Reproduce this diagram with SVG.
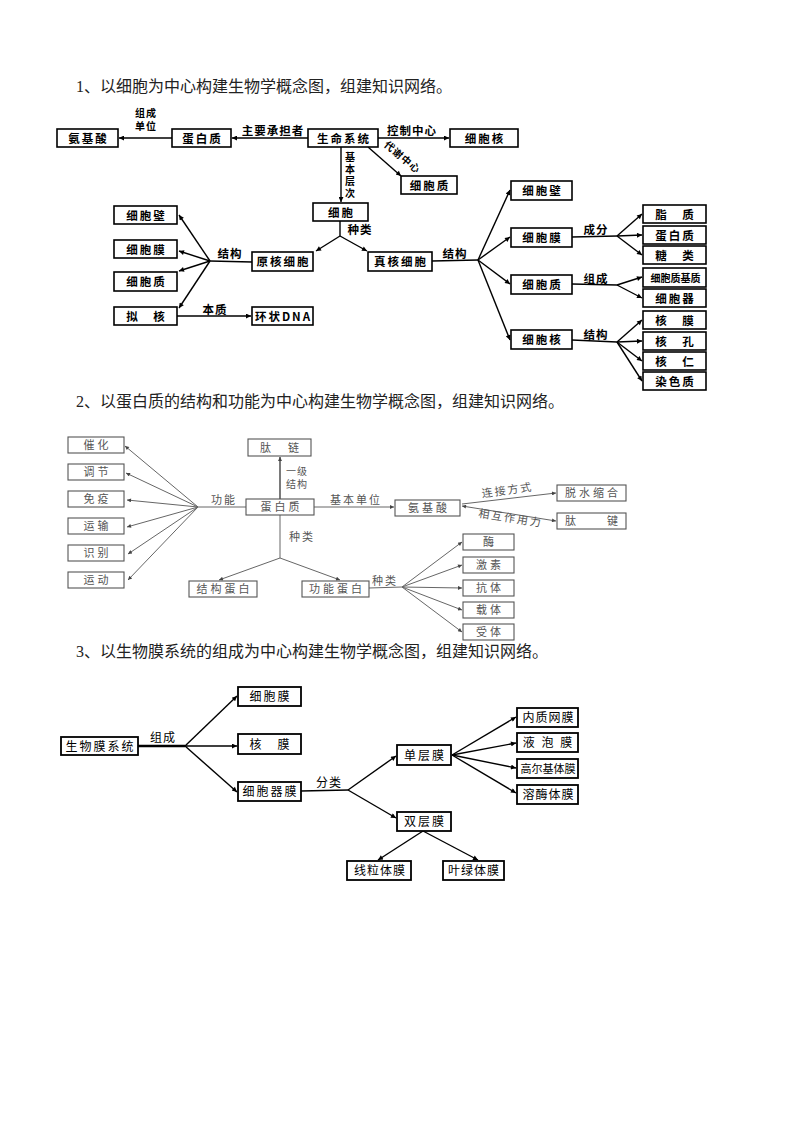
<svg xmlns="http://www.w3.org/2000/svg" width="793" height="1122" viewBox="0 0 793 1122">
<style>
.title{font-family:"Liberation Serif","Noto Sans CJK SC",serif;font-size:16px;fill:#222}
.b1 rect{fill:#fff;stroke:#000;stroke-width:1.6}
.b1 text{font-family:"Noto Sans CJK SC",sans-serif;font-size:11.5px;font-weight:700;letter-spacing:2px;text-anchor:middle;fill:#000}
.l1{font-family:"Noto Sans CJK SC",sans-serif;font-size:11.5px;font-weight:700;fill:#000;text-anchor:middle;letter-spacing:1px}
.s1{font-size:10px}
.c1 line,.c1 path{stroke:#000;stroke-width:1.4;fill:none}
.b2 rect{fill:#fff;stroke:#555;stroke-width:1.1}
.b2 text{font-family:"Noto Sans CJK SC",sans-serif;font-size:11px;letter-spacing:3px;text-anchor:middle;fill:#555}
.l2{font-family:"Noto Sans CJK SC",sans-serif;font-size:11px;fill:#555;text-anchor:middle;letter-spacing:2px}
.s2{font-size:10px;letter-spacing:1px}
.c2 line{stroke:#666;stroke-width:1;fill:none}
.b3 rect{fill:#fff;stroke:#000;stroke-width:1.8}
.b3 text{font-family:"Noto Sans CJK SC",sans-serif;font-size:12px;letter-spacing:2px;text-anchor:middle;fill:#000}
.l3{font-family:"Noto Sans CJK SC",sans-serif;font-size:12px;fill:#000;text-anchor:middle;letter-spacing:1px}
.c3 line{stroke:#000;stroke-width:1.4;fill:none}
</style>
<defs>
<marker id="a1" viewBox="0 0 10 10" refX="10" refY="5" markerWidth="7" markerHeight="5" markerUnits="userSpaceOnUse" orient="auto-start-reverse"><path d="M0,0 L10,5 L0,10 z" fill="#000"/></marker>
<marker id="a2" viewBox="0 0 10 10" refX="10" refY="5" markerWidth="6" markerHeight="4" markerUnits="userSpaceOnUse" orient="auto-start-reverse"><path d="M0,0 L10,5 L0,10 z" fill="#444"/></marker>
</defs>
<rect width="793" height="1122" fill="#fff"/>

<text class="title" x="76" y="92">1、以细胞为中心构建生物学概念图，组建知识网络。</text>
<text class="title" x="76" y="407">2、以蛋白质的结构和功能为中心构建生物学概念图，组建知识网络。</text>
<text class="title" x="76" y="657">3、以生物膜系统的组成为中心构建生物学概念图，组建知识网络。</text>

<!-- Diagram 1 connectors -->
<g id="connectors1" class="c1">
<line x1="172" y1="138" x2="119" y2="138" marker-end="url(#a1)"/>
<line x1="308" y1="138" x2="232" y2="138" marker-end="url(#a1)"/>
<line x1="378" y1="138" x2="449" y2="138" marker-end="url(#a1)"/>
<line x1="341" y1="147" x2="341" y2="202" marker-end="url(#a1)"/>
<line x1="368" y1="147" x2="401" y2="176" marker-end="url(#a1)"/>
<line x1="340" y1="221" x2="340" y2="236"/>
<line x1="340" y1="236" x2="316" y2="251" marker-end="url(#a1)"/>
<line x1="340" y1="236" x2="367" y2="251" marker-end="url(#a1)"/>
<line x1="252" y1="262" x2="210" y2="261"/>
<line x1="210" y1="261" x2="179" y2="215" marker-end="url(#a1)"/>
<line x1="210" y1="261" x2="179" y2="251" marker-end="url(#a1)"/>
<line x1="210" y1="261" x2="179" y2="271" marker-end="url(#a1)"/>
<line x1="210" y1="261" x2="179" y2="308" marker-end="url(#a1)"/>
<line x1="177" y1="316" x2="251" y2="316" marker-end="url(#a1)"/>
<line x1="432" y1="261" x2="478" y2="260"/>
<line x1="478" y1="260" x2="510" y2="190" marker-end="url(#a1)"/>
<line x1="478" y1="260" x2="510" y2="237" marker-end="url(#a1)"/>
<line x1="478" y1="260" x2="510" y2="284" marker-end="url(#a1)"/>
<line x1="478" y1="260" x2="510" y2="340" marker-end="url(#a1)"/>
<line x1="572" y1="237" x2="617" y2="236"/>
<line x1="617" y1="236" x2="642" y2="214" marker-end="url(#a1)"/>
<line x1="617" y1="236" x2="642" y2="235" marker-end="url(#a1)"/>
<line x1="617" y1="236" x2="642" y2="255" marker-end="url(#a1)"/>
<line x1="572" y1="284" x2="617" y2="285"/>
<line x1="617" y1="285" x2="642" y2="277" marker-end="url(#a1)"/>
<line x1="617" y1="285" x2="642" y2="298" marker-end="url(#a1)"/>
<line x1="572" y1="340" x2="617" y2="342"/>
<line x1="617" y1="342" x2="642" y2="320" marker-end="url(#a1)"/>
<line x1="617" y1="342" x2="642" y2="341" marker-end="url(#a1)"/>
<line x1="617" y1="342" x2="642" y2="361" marker-end="url(#a1)"/>
<line x1="617" y1="342" x2="642" y2="381" marker-end="url(#a1)"/>
</g>
<g id="labels1">
<text class="l1 s1" x="146" y="117">组成</text>
<text class="l1 s1" x="146" y="130">单位</text>
<text class="l1" x="273" y="135">主要承担者</text>
<text class="l1" x="412" y="135">控制中心</text>
<text class="l1 s1" x="350" y="152" writing-mode="vertical-rl" style="text-anchor:start;letter-spacing:2px">基本层次</text>
<text class="l1 s1" transform="translate(400,160) rotate(40)">代谢中心</text>
<text class="l1" x="360" y="234">种类</text>
<text class="l1" x="230" y="258">结构</text>
<text class="l1" x="215" y="314">本质</text>
<text class="l1" x="455" y="258">结构</text>
<text class="l1" x="596" y="234">成分</text>
<text class="l1" x="596" y="283">组成</text>
<text class="l1" x="596" y="339">结构</text>
</g>
<g class="b1">
<g id="n1-anjisuan"><rect x="57" y="129" width="61" height="18"/><text x="88.5" y="142.5">氨基酸</text></g>
<g id="n1-danbaizhi"><rect x="172" y="129" width="59" height="18"/><text x="202.5" y="142.5">蛋白质</text></g>
<g id="n1-shengming"><rect x="308" y="129" width="70" height="18"/><text x="344" y="142.5">生命系统</text></g>
<g id="n1-xibaohe-top"><rect x="450" y="129" width="68" height="18"/><text x="485" y="142.5">细胞核</text></g>
<g id="n1-xibaozhi-top"><rect x="401" y="176" width="56" height="18"/><text x="430" y="189.5">细胞质</text></g>
<g id="n1-xibao"><rect x="313" y="203" width="55" height="18"/><text x="341.5" y="216.5">细胞</text></g>
<g id="n1-yuanhe"><rect x="252" y="252" width="61" height="19"/><text x="283.5" y="266">原核细胞</text></g>
<g id="n1-zhenhe"><rect x="368" y="252" width="64" height="19"/><text x="401" y="266">真核细胞</text></g>
<g id="n1-l-bi"><rect x="114" y="206" width="63" height="18"/><text x="146.5" y="219.5">细胞壁</text></g>
<g id="n1-l-mo"><rect x="114" y="240" width="63" height="18"/><text x="146.5" y="253.5">细胞膜</text></g>
<g id="n1-l-zhi"><rect x="114" y="272" width="63" height="19"/><text x="146.5" y="286">细胞质</text></g>
<g id="n1-l-nihe"><rect x="114" y="307" width="63" height="18"/><text x="146.5" y="320.5">拟　核</text></g>
<g id="n1-dna"><rect x="252" y="307" width="61" height="18"/><text x="283.5" y="320.5">环状DNA</text></g>
<g id="n1-r-bi"><rect x="511" y="181" width="61" height="19"/><text x="542.5" y="195">细胞壁</text></g>
<g id="n1-r-mo"><rect x="511" y="228" width="61" height="19"/><text x="542.5" y="242">细胞膜</text></g>
<g id="n1-r-zhi"><rect x="511" y="275" width="61" height="19"/><text x="542.5" y="289">细胞质</text></g>
<g id="n1-r-he"><rect x="511" y="330" width="61" height="19"/><text x="542.5" y="344">细胞核</text></g>
<g id="n1-zhizhi"><rect x="643" y="205" width="63" height="18"/><text x="675.5" y="218.5">脂　质</text></g>
<g id="n1-dbz"><rect x="643" y="226" width="63" height="18"/><text x="675.5" y="239.5">蛋白质</text></g>
<g id="n1-tang"><rect x="643" y="246" width="63" height="18"/><text x="675.5" y="259.5">糖　类</text></g>
<g id="n1-jizhi"><rect x="643" y="268" width="63" height="19"/><text x="675.5" y="282" style="font-size:10px;letter-spacing:0">细胞质基质</text></g>
<g id="n1-qi"><rect x="643" y="289" width="63" height="18"/><text x="675.5" y="302.5">细胞器</text></g>
<g id="n1-hemo"><rect x="643" y="311" width="63" height="18"/><text x="675.5" y="324.5">核　膜</text></g>
<g id="n1-hekong"><rect x="643" y="332" width="63" height="18"/><text x="675.5" y="345.5">核　孔</text></g>
<g id="n1-heren"><rect x="643" y="352" width="63" height="18"/><text x="675.5" y="365.5">核　仁</text></g>
<g id="n1-ranse"><rect x="643" y="372" width="63" height="18"/><text x="675.5" y="385.5">染色质</text></g>
</g>

<!-- Diagram 2 -->
<g id="connectors2" class="c2">
<line x1="246" y1="507" x2="198" y2="507"/>
<line x1="198" y1="507" x2="125" y2="446" marker-end="url(#a2)"/>
<line x1="198" y1="507" x2="126" y2="473" marker-end="url(#a2)"/>
<line x1="198" y1="507" x2="127" y2="500" marker-end="url(#a2)"/>
<line x1="198" y1="507" x2="127" y2="527" marker-end="url(#a2)"/>
<line x1="198" y1="507" x2="128" y2="554" marker-end="url(#a2)"/>
<line x1="198" y1="507" x2="128" y2="580" marker-end="url(#a2)"/>
<line x1="280" y1="499" x2="280" y2="457" marker-end="url(#a2)" style="stroke:#333;stroke-width:1.3"/>
<line x1="280" y1="515" x2="280" y2="558"/>
<line x1="280" y1="558" x2="219" y2="580" marker-end="url(#a2)"/>
<line x1="280" y1="558" x2="340" y2="580" marker-end="url(#a2)"/>
<line x1="314" y1="507" x2="394" y2="507" marker-end="url(#a2)"/>
<line x1="462" y1="504" x2="556" y2="493" marker-end="url(#a2)"/>
<line x1="462" y1="506" x2="556" y2="521" marker-end="url(#a2)" marker-start="url(#a2)"/>
<line x1="369" y1="588" x2="402" y2="587"/>
<line x1="402" y1="587" x2="462" y2="542" marker-end="url(#a2)"/>
<line x1="402" y1="587" x2="462" y2="565" marker-end="url(#a2)"/>
<line x1="402" y1="587" x2="462" y2="588" marker-end="url(#a2)"/>
<line x1="402" y1="587" x2="462" y2="610" marker-end="url(#a2)"/>
<line x1="402" y1="587" x2="462" y2="632" marker-end="url(#a2)"/>
</g>
<g id="labels2">
<text class="l2" x="224" y="504">功能</text>
<text class="l2 s2" x="297" y="475">一级</text>
<text class="l2 s2" x="297" y="488">结构</text>
<text class="l2" x="302" y="541">种类</text>
<text class="l2" x="356" y="504">基本单位</text>
<text class="l2" transform="translate(508,494) rotate(-8)">连接方式</text>
<text class="l2" transform="translate(510,522) rotate(9)">相互作用力</text>
<text class="l2" x="385" y="585">种类</text>
</g>
<g class="b2">
<g id="n2-cuihua"><rect x="68" y="437" width="56" height="16"/><text x="97.5" y="449">催化</text></g>
<g id="n2-tiaojie"><rect x="68" y="464" width="56" height="16"/><text x="97.5" y="476">调节</text></g>
<g id="n2-mianyi"><rect x="68" y="491" width="56" height="16"/><text x="97.5" y="503">免疫</text></g>
<g id="n2-yunshu"><rect x="68" y="518" width="56" height="16"/><text x="97.5" y="530">运输</text></g>
<g id="n2-shibie"><rect x="68" y="545" width="56" height="16"/><text x="97.5" y="557">识别</text></g>
<g id="n2-yundong"><rect x="68" y="572" width="56" height="16"/><text x="97.5" y="584">运动</text></g>
<g id="n2-tailian"><rect x="248" y="439" width="63" height="17"/><text x="281" y="451.5">肽　链</text></g>
<g id="n2-danbaizhi"><rect x="246" y="499" width="68" height="16"/><text x="281.5" y="511">蛋白质</text></g>
<g id="n2-anjisuan"><rect x="395" y="500" width="65" height="16"/><text x="429" y="512">氨基酸</text></g>
<g id="n2-tuoshui"><rect x="557" y="485" width="69" height="16"/><text x="593" y="497">脱水缩合</text></g>
<g id="n2-taijian"><rect x="557" y="513" width="69" height="16"/><text x="593" y="525">肽　　键</text></g>
<g id="n2-jiegou"><rect x="189" y="581" width="68" height="16"/><text x="224.5" y="593">结构蛋白</text></g>
<g id="n2-gongneng"><rect x="302" y="581" width="67" height="16"/><text x="337" y="593">功能蛋白</text></g>
<g id="n2-mei"><rect x="463" y="534" width="51" height="16"/><text x="490" y="546">酶</text></g>
<g id="n2-jisu"><rect x="463" y="557" width="51" height="16"/><text x="490" y="569">激素</text></g>
<g id="n2-kangti"><rect x="463" y="580" width="51" height="16"/><text x="490" y="592">抗体</text></g>
<g id="n2-zaiti"><rect x="463" y="602" width="51" height="16"/><text x="490" y="614">载体</text></g>
<g id="n2-shouti"><rect x="463" y="624" width="51" height="16"/><text x="490" y="636">受体</text></g>
</g>

<!-- Diagram 3 -->
<g id="connectors3" class="c3">
<line x1="138" y1="746" x2="185" y2="746" style="stroke-width:2.4"/>
<line x1="185" y1="746" x2="237" y2="696" marker-end="url(#a1)"/>
<line x1="185" y1="746" x2="237" y2="746" marker-end="url(#a1)"/>
<line x1="185" y1="746" x2="237" y2="792" marker-end="url(#a1)"/>
<line x1="301" y1="791" x2="348" y2="790"/>
<line x1="348" y1="790" x2="396" y2="756" marker-end="url(#a1)"/>
<line x1="348" y1="790" x2="396" y2="818" marker-end="url(#a1)"/>
<line x1="452" y1="755" x2="516" y2="717" marker-end="url(#a1)"/>
<line x1="452" y1="755" x2="516" y2="743" marker-end="url(#a1)"/>
<line x1="452" y1="755" x2="516" y2="768" marker-end="url(#a1)"/>
<line x1="452" y1="755" x2="516" y2="793" marker-end="url(#a1)"/>
<line x1="423" y1="831" x2="378" y2="860" marker-end="url(#a1)"/>
<line x1="423" y1="831" x2="478" y2="860" marker-end="url(#a1)"/>
</g>
<g id="labels3">
<text class="l3" x="163" y="742">组成</text>
<text class="l3" x="329" y="787">分类</text>
</g>
<g class="b3">
<g id="n3-shengwumo"><rect x="61" y="737" width="77" height="18"/><text x="100.5" y="750.5">生物膜系统</text></g>
<g id="n3-xibaomo"><rect x="238" y="687" width="63" height="19"/><text x="270.5" y="701">细胞膜</text></g>
<g id="n3-hemo"><rect x="238" y="734" width="63" height="20"/><text x="270.5" y="748.5">核　膜</text></g>
<g id="n3-qiguan"><rect x="238" y="782" width="63" height="19"/><text x="270.5" y="796">细胞器膜</text></g>
<g id="n3-danceng"><rect x="397" y="745" width="54" height="20"/><text x="425" y="759.5">单层膜</text></g>
<g id="n3-shuangceng"><rect x="397" y="812" width="54" height="19"/><text x="425" y="826">双层膜</text></g>
<g id="n3-neizhi"><rect x="517" y="708" width="61" height="19"/><text x="548.5" y="722" style="letter-spacing:1px">内质网膜</text></g>
<g id="n3-yepao"><rect x="517" y="733" width="61" height="19"/><text x="548.5" y="747">液 泡 膜</text></g>
<g id="n3-gaoerji"><rect x="517" y="759" width="61" height="19"/><text x="548" y="773" style="font-size:11px;letter-spacing:0">高尔基体膜</text></g>
<g id="n3-rongmei"><rect x="517" y="785" width="61" height="19"/><text x="548.5" y="799" style="letter-spacing:1px">溶酶体膜</text></g>
<g id="n3-xianli"><rect x="347" y="861" width="64" height="19"/><text x="380" y="875" style="letter-spacing:1px">线粒体膜</text></g>
<g id="n3-yelv"><rect x="443" y="861" width="61" height="19"/><text x="474" y="875" style="letter-spacing:1px">叶绿体膜</text></g>
</g>
</svg>
